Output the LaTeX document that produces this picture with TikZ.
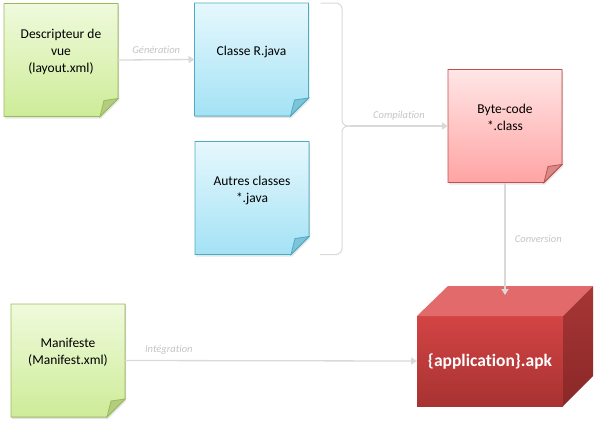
\documentclass[tikz,border=0pt]{standalone}
\usepackage{fontspec}
\setmainfont{Carlito}[Ligatures=NoCommon]
\usetikzlibrary{arrows.meta,backgrounds,shadows}

\definecolor{greenT}{HTML}{F0FADC}
\definecolor{greenB}{HTML}{CDEC98}
\definecolor{greenL}{HTML}{9BBB59}
\definecolor{greenF}{HTML}{B2CC80}
\definecolor{blueT}{HTML}{E6F8FD}
\definecolor{blueB}{HTML}{A4E2F5}
\definecolor{blueL}{HTML}{4BACC6}
\definecolor{blueF}{HTML}{7EC4D8}
\definecolor{redT}{HTML}{FFE6E6}
\definecolor{redB}{HTML}{FFA4A4}
\definecolor{redL}{HTML}{C0504D}
\definecolor{redF}{HTML}{D88A88}
\definecolor{apkT}{HTML}{D34444}
\definecolor{apkB}{HTML}{A83232}
\definecolor{apkTop}{HTML}{E26A6A}
\definecolor{apkSideT}{HTML}{A83636}
\definecolor{apkSideB}{HTML}{8A2828}
\definecolor{connGray}{HTML}{D9D9D9}
\definecolor{lblGray}{HTML}{C4C4C4}

\tikzset{
  note/.style={rectangle, minimum width=114pt, minimum height=113pt,
    inner sep=0pt, outer sep=0pt, align=center, text depth=18pt,
    font=\fontsize{13.5}{17}\selectfont},
  apkbox/.style={rectangle, minimum width=146pt, minimum height=90pt,
    inner sep=0pt, outer sep=0pt, top color=apkT, bottom color=apkB,
    text=white, font=\fontsize{17.5}{20}\selectfont\bfseries},
  conn/.style={draw=connGray, line width=1.3pt},
  arr/.style={conn, -{Triangle[length=6pt,width=7pt]}},
  lbl/.style={font=\fontsize{10.5}{12}\selectfont\itshape, text=lblGray}
}

\begin{document}
\begin{tikzpicture}[x=1pt,y=-1pt]
\useasboundingbox (0,0) rectangle (597,424);

\node[note] (vue) at (61,60) {Descripteur de\\vue\\(layout.xml)};
\node[note] (rjava) at (251.5,59.5) {Classe R.java};
\node[note] (autres) at (252,198) {Autres classes\\*.java};
\node[note] (bytecode) at (505,126) {Byte-code\\*.class};
\node[note] (manif) at (68,360.5) {Manifeste\\(Manifest.xml)};

\node[apkbox] (apk) at (490,361) {\{application\}.apk};
\fill[apkTop] (apk.north west) -- ([xshift=31pt,yshift=30pt]apk.north west)
  -- ([xshift=30pt,yshift=30pt]apk.north east) -- (apk.north east) -- cycle;
\shade[top color=apkSideT, bottom color=apkSideB] (apk.north east)
  -- ([xshift=30pt,yshift=30pt]apk.north east)
  -- ([xshift=30pt,yshift=30pt]apk.south east) -- (apk.south east) -- cycle;

% paper notes
\begin{scope}[on background layer]
\foreach \n/\ct/\cb/\cl/\cf in {vue/greenT/greenB/greenL/greenF,
    rjava/blueT/blueB/blueL/blueF, autres/blueT/blueB/blueL/blueF,
    bytecode/redT/redB/redL/redF, manif/greenT/greenB/greenL/greenF}{
  \filldraw[draw=\cl, top color=\ct, bottom color=\cb, line width=0.8pt,
    drop shadow={shadow xshift=1pt, shadow yshift=-2pt, opacity=0.2}]
    (\n.north west) -- (\n.north east) -- ([yshift=18pt]\n.south east)
    -- ([xshift=-18pt]\n.south east) -- (\n.south west) -- cycle;
  \filldraw[draw=\cl, fill=\cf, line width=0.8pt] ([yshift=18pt]\n.south east)
    -- ([xshift=-14pt,yshift=16pt]\n.south east) -- ([xshift=-18pt]\n.south east) -- cycle;
}
\end{scope}

% brace
\coordinate (brace) at (350,126);
\draw[conn, line width=1pt, rounded corners=6pt] ([xshift=12pt]rjava.north east)
  -| ([xshift=-8pt]brace) -- (brace);
\draw[conn, line width=1pt, rounded corners=6pt] ([xshift=11pt]autres.south east)
  -| ([xshift=-8pt]brace) -- (brace);

\coordinate (apktop) at ([yshift=21pt]apk.north);
\draw[arr] (vue.east) -- node[lbl, above=2pt] {Génération} (rjava.west);
\draw[arr] (brace) -- node[lbl, above=2pt] {Compilation} (bytecode.west);
\draw[arr] (bytecode.south) -- node[lbl, right=6pt] {Conversion} (bytecode.south |- apktop);
\draw[arr] (manif.east) -- node[lbl, above=2pt, pos=0.15] {Intégration} (apk.west);
\end{tikzpicture}
\end{document}
